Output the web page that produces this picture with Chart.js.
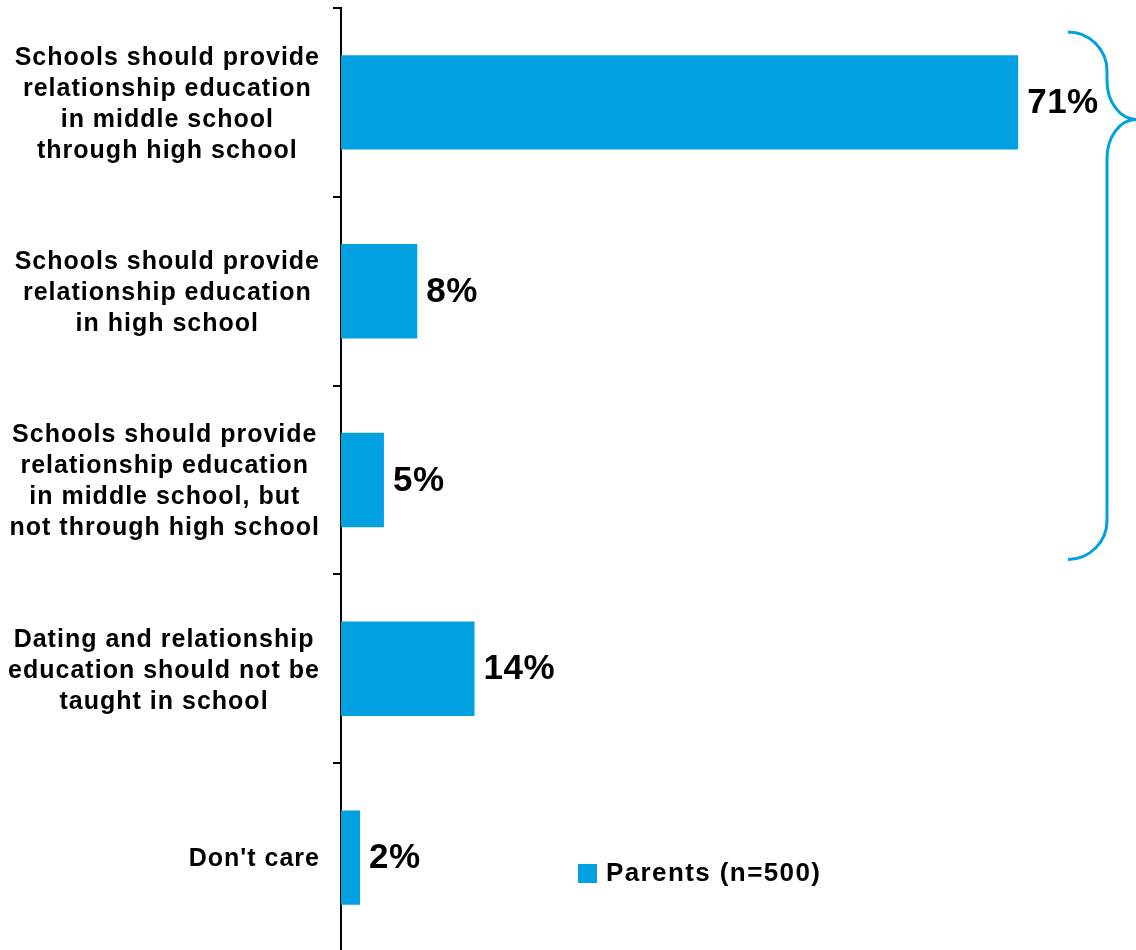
<!DOCTYPE html>
<html>
<head>
<meta charset="utf-8">
<script src="https://cdn.jsdelivr.net/npm/chart.js@4.4.1/dist/chart.umd.min.js"></script>
<style>
  html, body { margin: 0; padding: 0; background: #fff; overflow: hidden; }
  #wrap { width: 1136px; height: 952px; }
</style>
</head>
<body>
<div id="wrap"><canvas id="chart" width="1136" height="952"></canvas></div>
<script>
const categories = [
  ['Schools should provide', 'relationship education', 'in middle school', 'through high school'],
  ['Schools should provide', 'relationship education', 'in high school'],
  ['Schools should provide', 'relationship education', 'in middle school, but', 'not through high school'],
  ['Dating and relationship', 'education should not be', 'taught in school'],
  ["Don't care"]
];
const parentValues = [71, 8, 4.5, 14, 2];
const valueLabels = ['71%', '8%', '5%', '14%', '2%'];
const seriesName = 'Parents (n=500)';
const xMax = 80;

const blue = '#00A0E1';
const fontFamily = '"Liberation Sans", Arial, sans-serif';

// category labels: each block centred on itself, blocks right-aligned to the axis
const catLabels = {
  id: 'catLabels',
  afterDraw(chart) {
    const ctx = chart.ctx;
    const y = chart.scales.y;
    const rightEdge = y.right - 21;
    const lh = 31;
    ctx.save();
    ctx.letterSpacing = '1px';
    ctx.font = 'bold 25px ' + fontFamily;
    ctx.fillStyle = '#000';
    ctx.textAlign = 'center';
    ctx.textBaseline = 'middle';
    categories.forEach((lines, i) => {
      const cy = y.getPixelForValue(i) + 2;
      const w = Math.max(...lines.map(l => ctx.measureText(l).width));
      const cx = rightEdge - w / 2;
      lines.forEach((line, j) => {
        ctx.fillText(line, cx, cy + (j - (lines.length - 1) / 2) * lh);
      });
    });
    ctx.restore();
  }
};

const valueText = {
  id: 'valueText',
  afterDatasetsDraw(chart) {
    const ctx = chart.ctx;
    const meta = chart.getDatasetMeta(0);
    ctx.save();
    ctx.letterSpacing = '0.5px';
    ctx.font = 'bold 35px ' + fontFamily;
    ctx.fillStyle = '#000';
    ctx.textAlign = 'left';
    ctx.textBaseline = 'middle';
    meta.data.forEach((bar, i) => {
      ctx.fillText(valueLabels[i], bar.x + 9, bar.y + 1);
    });
    ctx.restore();
  }
};

// curly brace grouping the first three answers
const brace = {
  id: 'brace',
  afterDraw(chart) {
    const ctx = chart.ctx;
    const y = chart.scales.y;
    const catH = y.getPixelForValue(1) - y.getPixelForValue(0);
    const top = y.getPixelForValue(0) - catH / 2 + 24;
    const bot = y.getPixelForValue(2) + catH / 2 - 15;
    const tip = y.getPixelForValue(0) + 17;
    const xv = chart.chartArea.right + 3;
    const r = 39;
    const tw = 29;
    ctx.save();
    ctx.strokeStyle = blue;
    ctx.lineWidth = 3;
    ctx.beginPath();
    ctx.moveTo(xv - r, top);
    ctx.ellipse(xv - r, top + r, r, r, 0, -Math.PI / 2, 0);
    ctx.lineTo(xv, tip - 39);
    ctx.ellipse(xv + tw, tip - 39, tw, 39, 0, Math.PI, Math.PI / 2, true);
    ctx.ellipse(xv + tw, tip + 39, tw, 39, 0, -Math.PI / 2, Math.PI, true);
    ctx.lineTo(xv, bot - r);
    ctx.ellipse(xv - r, bot - r, r, r, 0, 0, Math.PI / 2);
    ctx.stroke();
    ctx.restore();
  }
};

const legendBox = {
  id: 'legendBox',
  afterDraw(chart) {
    const ctx = chart.ctx;
    const x = chart.chartArea.left + 237;
    const y = chart.chartArea.bottom - 79;
    ctx.save();
    ctx.fillStyle = blue;
    ctx.fillRect(x, y - 9, 19, 19);
    ctx.fillStyle = '#000';
    ctx.letterSpacing = '1.4px';
    ctx.font = 'bold 26px ' + fontFamily;
    ctx.textAlign = 'left';
    ctx.textBaseline = 'middle';
    ctx.fillText(seriesName, x + 28, y + 1);
    ctx.restore();
  }
};

new Chart(document.getElementById('chart'), {
  type: 'bar',
  data: {
    labels: categories,
    datasets: [{
      label: seriesName,
      data: parentValues,
      backgroundColor: blue,
      barPercentage: 1,
      categoryPercentage: 0.5
    }]
  },
  options: {
    indexAxis: 'y',
    responsive: false,
    animation: false,
    layout: { padding: { top: 8, right: 32, bottom: 0, left: 0 } },
    plugins: {
      legend: { display: false },
      tooltip: { enabled: false }
    },
    scales: {
      x: {
        display: false,
        min: 0,
        max: xMax
      },
      y: {
        afterFit(scale) {
          scale.width = 341;
          scale.paddingTop = 0;
          scale.paddingBottom = 0;
        },
        grid: {
          display: true,
          drawOnChartArea: false,
          drawTicks: true,
          tickLength: 8,
          offset: true,
          color: '#000',
          lineWidth: 2
        },
        border: { display: true, color: '#000', width: 2 },
        ticks: { display: false }
      }
    }
  },
  plugins: [valueText, brace, legendBox, catLabels]
});
</script>
</body>
</html>
